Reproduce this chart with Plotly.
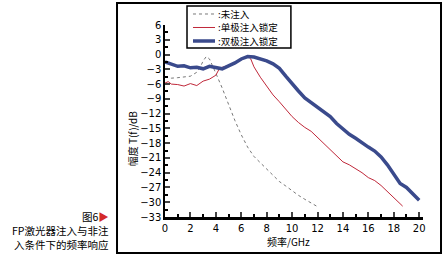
import plotly.graph_objects as go

# ---- data ----
f_none = [0, 0.5, 1.0, 1.5, 2.0, 2.5, 2.8, 3.0, 3.25, 3.5, 3.75, 4.0, 4.5, 5.0, 5.5, 6.0, 6.5, 7.0,
          7.5, 8.0, 8.5, 9.0, 9.5, 10.0, 10.5, 11.0, 11.5, 12.0]
t_none = [-4.6, -4.8, -4.7, -4.5, -4.4, -3.6, -2.4, -1.3, -0.4, -0.9, -2.2, -3.8, -6.8, -10.2, -13.4,
          -16.3, -18.8, -20.7, -22.0, -23.1, -24.6, -25.8, -26.7, -27.7, -28.6, -29.4, -30.2, -30.9]

f_single = [0, 0.25, 0.5, 1.0, 1.5, 2.0, 2.5, 3.0, 3.5, 3.75, 4.0, 4.25, 4.5, 5.0, 5.5, 6.0, 6.5,
            6.75, 7.0, 7.5, 8.0, 8.5, 9.0, 9.5, 10.0, 10.5, 11.0, 11.5, 12.0, 12.5, 13.0, 13.5,
            14.0, 14.5, 15.0, 15.5, 16.0, 16.5, 17.0, 17.5, 18.0, 18.5, 18.7]
t_single = [-5.8, -5.5, -6.0, -6.1, -6.4, -5.9, -6.3, -5.4, -5.0, -4.6, -4.2, -3.0, -2.6, -2.2,
            -1.6, -0.8, -0.3, -0.9, -2.5, -4.6, -6.5, -8.2, -9.6, -11.2, -12.6, -13.8, -14.8,
            -15.6, -16.8, -18.0, -19.2, -20.6, -21.8, -22.4, -23.2, -24.0, -25.0, -25.6, -26.6,
            -27.8, -29.0, -30.2, -30.8]

f_double = [0, 0.5, 1.0, 1.5, 2.0, 2.5, 3.0, 3.5, 4.0, 4.5, 5.0, 5.5, 6.0, 6.5, 7.0, 7.5, 8.0, 8.5,
            9.0, 9.5, 10.0, 10.5, 11.0, 11.5, 12.0, 12.5, 13.0, 13.5, 14.0, 14.5, 15.0, 15.5,
            16.0, 16.5, 17.0, 17.5, 18.0, 18.5, 19.0, 19.5, 20.0]
t_double = [-1.5, -2.0, -2.4, -2.3, -2.7, -2.6, -2.9, -2.4, -2.7, -2.9, -2.3, -1.7, -0.9, -0.4,
            -0.5, -0.9, -1.3, -1.9, -2.8, -4.4, -6.0, -7.4, -8.8, -9.8, -10.6, -11.6, -12.6,
            -14.0, -15.2, -16.2, -17.0, -18.0, -18.8, -19.6, -20.8, -22.4, -24.4, -26.2, -27.0,
            -28.2, -29.6]

names = [":未注入", ":单极注入锁定", ":双极注入锁定"]
y_ticks = [6, 3, 0, -3, -6, -9, -12, -15, -18, -21, -24, -27, -30, -33]
x_ticks = [0, 2, 4, 6, 8, 10, 12, 14, 16, 18, 20]
caption = ["图6<span style='color:#d42a2a'>▶</span>", "FP激光器注入与非注", "入条件下的频率响应"]

FONT = "Noto Sans CJK SC, DejaVu Sans, sans-serif"
styles = [dict(color="#555555", width=0.8, dash="dot"),
          dict(color="#c0283a", width=1),
          dict(color="#3a4a8c", width=3.5)]

fig = go.Figure()
for fx, ty, nm, st in zip([f_none, f_single, f_double], [t_none, t_single, t_double], names, styles):
    fig.add_trace(go.Scatter(x=fx, y=ty, mode="lines", name=nm, line=st, showlegend=False))

# outer frame + custom compact legend (box, sample lines, labels)
shapes = [dict(type="rect", xref="paper", yref="paper", x0=-0.186, x1=1.0698,
               y0=-0.1875, y1=1.1146, line=dict(color="black", width=2)),
          dict(type="rect", xref="paper", yref="paper", x0=0.0853, x1=0.488,
               y0=0.8802, y1=1.099, line=dict(color="black", width=1.5), fillcolor="white")]
annotations = []
row_y = [1.0573, 0.9870, 0.9167]
for ry, nm, st in zip(row_y, names, styles):
    shapes.append(dict(type="line", xref="paper", yref="paper", x0=0.1085, x1=0.1938,
                       y0=ry, y1=ry, line=st))
    annotations.append(dict(text=nm, xref="paper", yref="paper", x=0.2016, y=ry,
                            xanchor="left", yanchor="middle", showarrow=False, borderpad=0,
                            font=dict(size=9.5, family=FONT)))

annotations += [
    dict(text="幅度 T(f)/dB", xref="paper", yref="paper", x=-0.128, y=0.41,
         xanchor="center", yanchor="middle",
         textangle=-90, showarrow=False, font=dict(size=10, family=FONT)),
    dict(text="频率/GHz", xref="paper", yref="paper", x=0.388, y=-0.125,
         xanchor="left", yanchor="middle", showarrow=False,
         font=dict(size=10, family=FONT)),
]
for cy, line_txt in zip([0.0052, -0.0703, -0.1458], caption):
    annotations.append(dict(text=line_txt, xref="paper", yref="paper", x=-0.213, y=cy,
                            xanchor="right", yanchor="middle", showarrow=False, borderpad=0,
                            font=dict(size=10.5, family=FONT)))

fig.update_layout(
    width=443, height=254,
    margin=dict(l=165, r=20, t=25, b=37),
    paper_bgcolor="white", plot_bgcolor="white",
    font=dict(family=FONT, size=10, color="black"),
    showlegend=False,
    xaxis=dict(range=[0, 20.3], tickvals=x_ticks, ticks="inside", ticklen=5, tickwidth=1.5,
               showline=True, linecolor="black", linewidth=2.5, showgrid=False, zeroline=False,
               tickfont=dict(size=10, family="DejaVu Sans"),
               minor=dict(ticks="inside", ticklen=3, dtick=1, tickcolor="black")),
    yaxis=dict(range=[-33, 6], tickvals=y_ticks, ticks="inside", ticklen=5, tickwidth=1.5,
               showline=True, linecolor="black", linewidth=1.5, showgrid=False, zeroline=False,
               tickfont=dict(size=10, family="DejaVu Sans"),
               minor=dict(ticks="inside", ticklen=3, dtick=1.5, tickcolor="black")),
    shapes=shapes,
    annotations=annotations,
)

fig.write_html("out.html")
